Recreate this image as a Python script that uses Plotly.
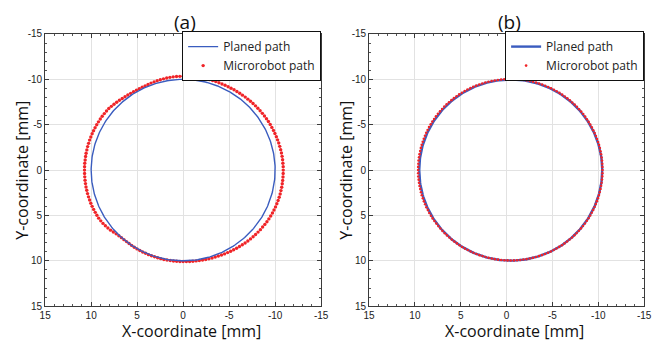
import numpy as np
import plotly.graph_objects as go

# ---------------- data ----------------
panel_titles = ["(a)", "(b)"]
legend_names = ["Planed path", "Microrobot path"]
tick_values = [-15, -10, -5, 0, 5, 10, 15]
tick_labels = ["-15", "-10", "-5", "0", "5", "10", "15"]

# planned circular path (centre x, centre y, radius) for each panel
planned_a = (0.0, 0.0, 10.0)
planned_b = (-0.45, 0.0, 9.98)

# microrobot path: polar samples (angle in degrees, radius in mm) about the planned centre
robot_angles_deg = list(range(0, 360, 2))

robot_radius_a = [
    10.72, 10.72, 10.72, 10.72, 10.72, 10.72, 10.71, 10.71, 10.70, 10.69,
    10.68, 10.67, 10.65, 10.63, 10.62, 10.60, 10.56, 10.51, 10.45, 10.38,
    10.30, 10.21, 10.12, 10.06, 10.02, 10.01, 10.00, 10.00, 10.01, 10.02,
    10.03, 10.03, 10.04, 10.04, 10.05, 10.05, 10.05, 10.06, 10.06, 10.07,
    10.07, 10.07, 10.08, 10.08, 10.08, 10.08, 10.09, 10.10, 10.10, 10.11,
    10.12, 10.13, 10.15, 10.16, 10.18, 10.20, 10.22, 10.25, 10.27, 10.30,
    10.33, 10.36, 10.39, 10.42, 10.45, 10.48, 10.51, 10.54, 10.57, 10.60,
    10.63, 10.66, 10.68, 10.71, 10.74, 10.76, 10.78, 10.80, 10.81, 10.83,
    10.84, 10.85, 10.86, 10.87, 10.87, 10.88, 10.88, 10.88, 10.88, 10.88,
    10.88, 10.88, 10.87, 10.87, 10.86, 10.85, 10.84, 10.82, 10.81, 10.79,
    10.78, 10.76, 10.75, 10.73, 10.72, 10.70, 10.68, 10.66, 10.64, 10.62,
    10.60, 10.58, 10.56, 10.54, 10.52, 10.50, 10.48, 10.47, 10.45, 10.44,
    10.42, 10.41, 10.40, 10.39, 10.39, 10.38, 10.37, 10.37, 10.36, 10.36,
    10.35, 10.35, 10.35, 10.35, 10.35, 10.35, 10.34, 10.34, 10.33, 10.32,
    10.30, 10.28, 10.26, 10.24, 10.22, 10.20, 10.18, 10.16, 10.15, 10.15,
    10.16, 10.18, 10.20, 10.23, 10.26, 10.30, 10.35, 10.40, 10.45, 10.50,
    10.55, 10.57, 10.59, 10.61, 10.62, 10.63, 10.64, 10.65, 10.66, 10.67,
    10.68, 10.69, 10.69, 10.70, 10.70, 10.71, 10.71, 10.71, 10.72, 10.72,
]

robot_radius_b = [
    10.10, 10.10, 10.11, 10.10, 10.10, 10.10, 10.09, 10.09, 10.09, 10.08,
    10.08, 10.07, 10.07, 10.06, 10.06, 10.05, 10.05, 10.04, 10.03, 10.03,
    10.02, 10.02, 10.01, 10.01, 10.00, 10.00, 10.00, 9.99, 9.99, 9.99,
    9.99, 9.98, 9.98, 9.98, 9.98, 9.98, 9.97, 9.97, 9.97, 9.97,
    9.97, 9.97, 9.96, 9.96, 9.96, 9.96, 9.96, 9.96, 9.96, 9.96,
    9.96, 9.96, 9.97, 9.97, 9.97, 9.97, 9.97, 9.98, 9.98, 9.98,
    9.98, 9.98, 9.99, 9.99, 9.99, 9.99, 10.00, 10.00, 10.00, 10.00,
    10.00, 10.00, 10.01, 10.01, 10.01, 10.01, 10.01, 10.01, 10.01, 10.01,
    10.01, 10.01, 10.01, 10.01, 10.01, 10.01, 10.01, 10.01, 10.01, 10.01,
    10.01, 10.01, 10.01, 10.01, 10.01, 10.01, 10.01, 10.02, 10.02, 10.02,
    10.02, 10.02, 10.02, 10.02, 10.02, 10.02, 10.02, 10.02, 10.03, 10.03,
    10.03, 10.03, 10.03, 10.03, 10.03, 10.03, 10.03, 10.03, 10.03, 10.03,
    10.03, 10.03, 10.03, 10.03, 10.03, 10.03, 10.03, 10.03, 10.03, 10.03,
    10.03, 10.03, 10.03, 10.03, 10.03, 10.03, 10.03, 10.03, 10.03, 10.03,
    10.03, 10.03, 10.04, 10.04, 10.04, 10.04, 10.04, 10.05, 10.05, 10.05,
    10.05, 10.05, 10.06, 10.06, 10.06, 10.06, 10.07, 10.07, 10.07, 10.07,
    10.07, 10.08, 10.08, 10.08, 10.08, 10.08, 10.09, 10.09, 10.09, 10.09,
    10.09, 10.09, 10.10, 10.10, 10.10, 10.10, 10.10, 10.11, 10.10, 10.10,
]

# ---------------- helpers ----------------
BLUE = "#3a5cbf"
RED = "#f02428"
W, H = 657, 345


def circle_xy(center, n=361):
    cx, cy, r = center
    t = np.linspace(0, 2 * np.pi, n)
    return cx + r * np.cos(t), cy + r * np.sin(t)


def robot_xy(center, radii):
    cx, cy, _ = center
    t = np.deg2rad(np.array(robot_angles_deg, dtype=float))
    r = np.array(radii)
    return cx + r * np.cos(t), cy + r * np.sin(t)


fig = go.Figure()

# panel (a): red first, blue on top
rx, ry = robot_xy(planned_a, robot_radius_a)
fig.add_trace(go.Scatter(x=rx, y=ry, mode="markers", name=legend_names[1],
                         marker=dict(color=RED, size=3.4, line=dict(width=0)),
                         xaxis="x", yaxis="y", legend="legend", legendrank=2))
bx, by = circle_xy(planned_a)
fig.add_trace(go.Scatter(x=bx, y=by, mode="lines", name=legend_names[0],
                         line=dict(color=BLUE, width=1.4),
                         xaxis="x", yaxis="y", legend="legend", legendrank=1))

# panel (b)
bx, by = circle_xy(planned_b)
fig.add_trace(go.Scatter(x=bx, y=by, mode="lines", name=legend_names[0],
                         line=dict(color=BLUE, width=2.4),
                         xaxis="x2", yaxis="y2", legend="legend2", legendrank=1))
rx, ry = robot_xy(planned_b, robot_radius_b)
fig.add_trace(go.Scatter(x=rx, y=ry, mode="markers", name=legend_names[1],
                         marker=dict(color=RED, size=2.6, line=dict(width=0)),
                         xaxis="x2", yaxis="y2", legend="legend2", legendrank=2))

# ---------------- layout ----------------
dom_a = [40 / W, 322 / W]
dom_b = [371 / W, 652 / W]
dom_y = [(H - 311) / H, (H - 29) / H]

tickfont = dict(family="Liberation Sans, Arial, sans-serif", size=10, color="#222")


def axis_cfg(domain, anchor):
    return dict(
        domain=domain, anchor=anchor, range=[15, -15],
        tickmode="array", tickvals=tick_values, ticktext=tick_labels,
        showgrid=True, gridcolor="#e2e2e2", gridwidth=1,
        zeroline=False, showline=True, linecolor="#3a3a3a", linewidth=1,
        mirror="allticks", ticks="inside", ticklen=4, tickcolor="#3a3a3a",
        minor=dict(dtick=1, tick0=0, ticks="inside", ticklen=2, tickcolor="#555", showgrid=False),
        tickfont=tickfont, fixedrange=True,
    )


legend_common = dict(
    bgcolor="white", bordercolor="#111", borderwidth=1,
    font=dict(family="Open Sans, sans-serif", size=12, color="#222"),
    xanchor="right", yanchor="top", tracegroupgap=0,
    itemsizing="trace", itemwidth=30,
)

legend_top = (H - 26) / H

fig.update_layout(
    width=W, height=H,
    margin=dict(l=0, r=0, t=0, b=0),
    paper_bgcolor="white", plot_bgcolor="white",
    showlegend=True,
    xaxis=axis_cfg(dom_a, "y"),
    yaxis=axis_cfg(dom_y, "x"),
    xaxis2=axis_cfg(dom_b, "y2"),
    yaxis2=axis_cfg(dom_y, "x2"),
    legend=dict(x=dom_a[1], y=legend_top, **legend_common),
    legend2=dict(x=dom_b[1], y=legend_top, **legend_common),
)

title_font = dict(family="Open Sans, sans-serif", size=19, color="#111")
axis_title_font = dict(family="Open Sans, sans-serif", size=16, color="#111")

annotations = []
for xc, t in zip([183 / W, 514 / W], panel_titles):
    annotations.append(dict(text=t, x=xc, y=(H - 17) / H, xref="paper", yref="paper",
                            showarrow=False, font=title_font, xanchor="center", yanchor="middle"))
for xc in [190 / W, 520 / W]:
    annotations.append(dict(text="X-coordinate [mm]", x=xc, y=(H - 337) / H, xref="paper", yref="paper",
                            showarrow=False, font=axis_title_font, xanchor="center", yanchor="middle"))
for xc in [16 / W, 347 / W]:
    annotations.append(dict(text="Y-coordinate [mm]", x=xc, y=(H - 170) / H, xref="paper", yref="paper",
                            showarrow=False, font=axis_title_font, textangle=-90,
                            xanchor="center", yanchor="middle"))
fig.update_layout(annotations=annotations)

fig.write_html("out.html")
